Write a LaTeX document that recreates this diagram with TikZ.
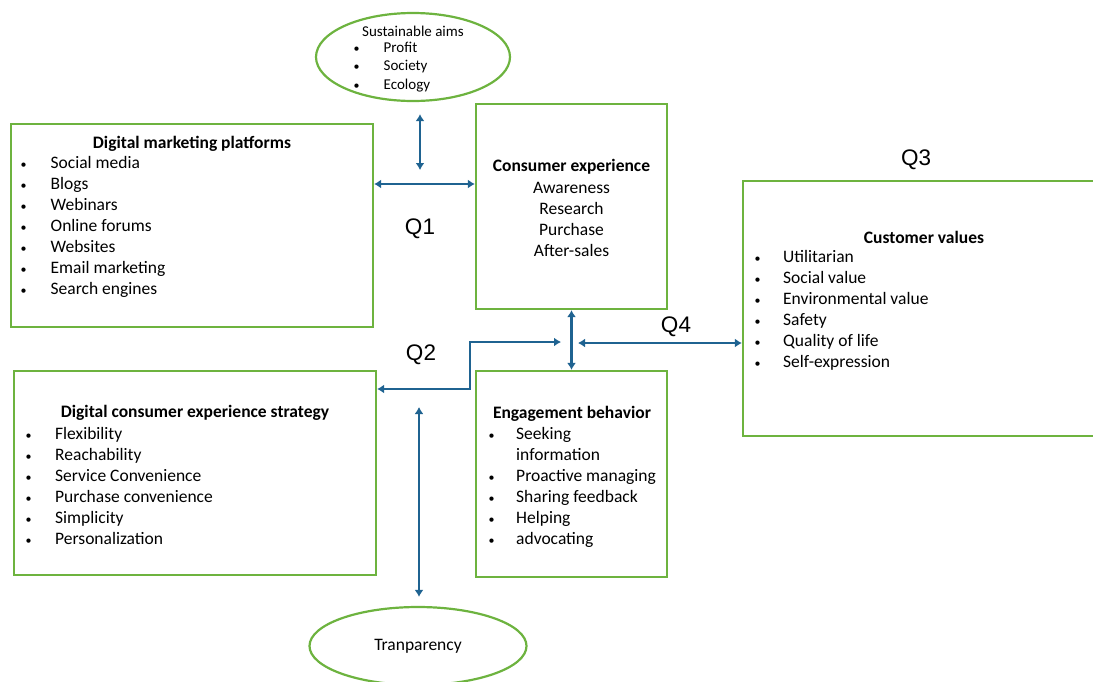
\documentclass[tikz,border=0pt]{standalone}
\usepackage{fontspec}
\setmainfont{Carlito}
\newfontfamily\qfont{Liberation Sans}
\usetikzlibrary{arrows.meta, positioning, shapes.geometric, calc}

\definecolor{boxgreen}{HTML}{6DB33F}
\definecolor{linkblue}{HTML}{1F6391}

\newcommand{\bitem}[2][28pt]{\makebox[#1][l]{\hspace{1pt}{\fontsize{12}{12}\selectfont\textbullet}}#2}

\begin{document}
\begin{tikzpicture}[x=1pt, y=-1pt,
    greenbox/.style={rectangle, draw=boxgreen, line width=2.2pt, inner sep=0pt},
    greenoval/.style={ellipse, draw=boxgreen, line width=2.2pt, inner sep=0pt},
    listtext/.style={font=\fontsize{17.5}{21}\selectfont, align=left, inner sep=0pt},
    midtext/.style={listtext, align=center},
    titletext/.style={font=\fontsize{17.5}{21}\selectfont\bfseries, inner sep=0pt},
    smalltext/.style={font=\fontsize{15}{18.5}\selectfont, align=left, inner sep=0pt},
    qlabel/.style={font=\qfont\fontsize{22.5}{26}\selectfont, inner sep=0pt},
    arr/.style={{Latex[length=7pt, width=9pt]}-{Latex[length=7pt, width=9pt]},
      line width=2.4pt, linkblue}
  ]
    \clip (0,0) rectangle (1093,681);

    % sustainable aims
    \node[greenoval, minimum width=194, minimum height=88] (aims) at (413,57) {};
    \node[smalltext] (aimstitle) at (413,31) {Sustainable aims};
    \node[smalltext, anchor=west] (aimslist) at (352.5,67) {
      \bitem[31pt]{Profit}\\ \bitem[31pt]{Society}\\ \bitem[31pt]{Ecology}};

    % digital marketing platforms
    \node[greenbox, minimum width=362, minimum height=203] (platforms) at (192,225.5) {};
    \node[titletext] (platformstitle) at (192,144) {Digital marketing platforms};
    \node[listtext, anchor=west] (platformslist) at (19.5,227) {
      \bitem[31pt]{Social media}\\ \bitem[31pt]{Blogs}\\ \bitem[31pt]{Webinars}\\
      \bitem[31pt]{Online forums}\\ \bitem[31pt]{Websites}\\
      \bitem[31pt]{Email marketing}\\ \bitem[31pt]{Search engines}};

    % consumer experience
    \node[greenbox, minimum width=191, minimum height=205] (experience) at (571.5,206.5) {};
    \node[titletext] (experiencetitle) at (571.5,166.5) {Consumer experience};
    \node[midtext] (experiencelist) at (571.5,219) {
      Awareness\\ Research\\ Purchase\\ After-sales};

    % customer values
    \node[greenbox, minimum width=360, minimum height=255] (values) at (923,308.5) {};
    \node[titletext] (valuestitle) at (924,237.5) {Customer values};
    \node[listtext, anchor=west] (valueslist) at (753.5,310.5) {
      \bitem[29.5pt]{Utilitarian}\\ \bitem[29.5pt]{Social value}\\
      \bitem[29.5pt]{Environmental value}\\ \bitem[29.5pt]{Safety}\\
      \bitem[29.5pt]{Quality of life}\\ \bitem[29.5pt]{Self-expression}};

    % digital consumer experience strategy
    \node[greenbox, minimum width=362, minimum height=204] (strategy) at (195,473) {};
    \node[titletext] (strategytitle) at (195,412.5) {Digital consumer experience strategy};
    \node[listtext, anchor=west] (strategylist) at (24.5,486) {
      \bitem[30.5pt]{Flexibility}\\ \bitem[30.5pt]{Reachability}\\
      \bitem[30.5pt]{Service Convenience}\\ \bitem[30.5pt]{Purchase convenience}\\
      \bitem[30.5pt]{Simplicity}\\ \bitem[30.5pt]{Personalization}};

    % engagement behavior
    \node[greenbox, minimum width=191, minimum height=206] (engage) at (571.5,474) {};
    \node[titletext] (engagetitle) at (572,413.5) {Engagement behavior};
    \node[listtext, anchor=west] (engagelist) at (487.5,487.5) {
      \bitem[28.5pt]{Seeking}\\ \hspace*{28.5pt}information\\
      \bitem[28.5pt]{Proactive managing}\\ \bitem[28.5pt]{Sharing feedback}\\
      \bitem[28.5pt]{Helping}\\ \bitem[28.5pt]{advocating}};

    % transparency
    \node[greenoval, minimum width=217, minimum height=78,
      font=\fontsize{17.5}{21}\selectfont] (transp) at (418,646) {Tranparency};

    % research questions
    \node[qlabel] (q1) at (420,229) {Q1};
    \node[qlabel] (q2) at (421,355) {Q2};
    \node[qlabel] (q3) at (916,160) {Q3};
    \node[qlabel] (q4) at (676,327) {Q4};

    % links
    \coordinate (row1) at (0,184);
    \coordinate (aimslink) at (420,170);
    \coordinate (q4start) at (578,343);
    \coordinate (q2end) at (561,342);
    \coordinate (q2bend) at (470,389);
    \coordinate (transplink) at (419,407);

    \draw[arr] (platforms.east |- row1) -- (experience.west |- row1);
    \draw[arr] ($(aims.south -| aimslink)+(0,12)$) -- (aimslink);
    \draw[arr] (experience.south) -- (engage.north);
    \draw[arr] (q4start) -- (values.west |- q4start);
    \draw[arr] (q2end) -| (q2bend) -- (strategy.east |- q2bend);
    \draw[arr] (transplink) -- ($(transp.north -| transplink)+(0,-9)$);
  \end{tikzpicture}
\end{document}
